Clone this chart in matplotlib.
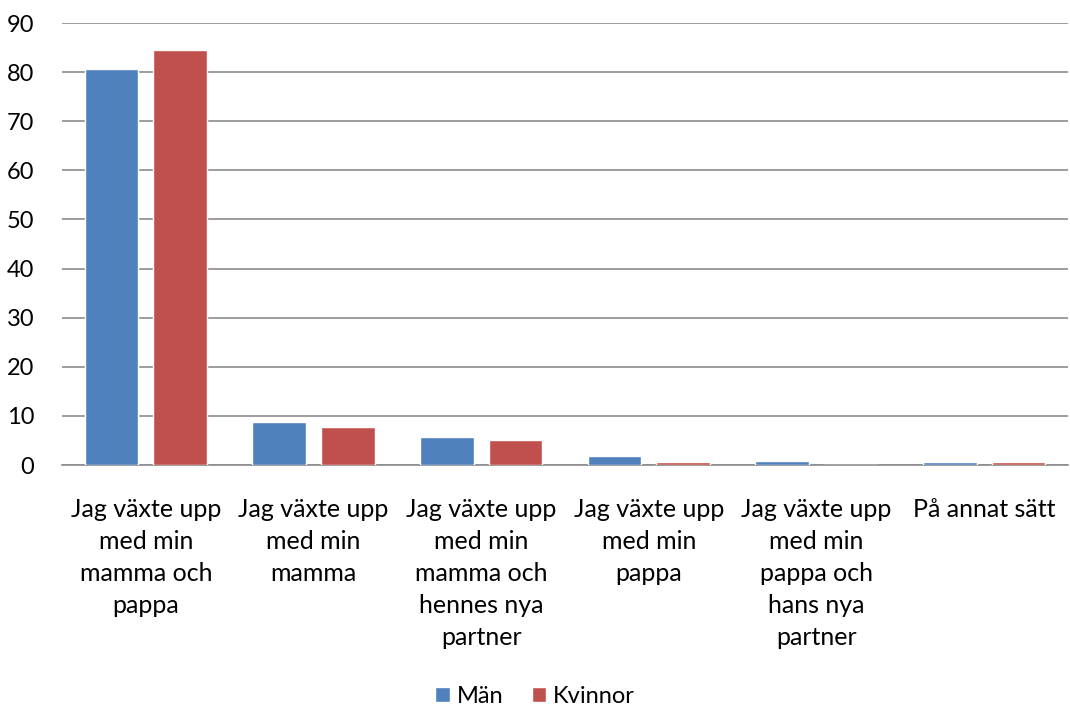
import numpy as np
import matplotlib.pyplot as plt

plt.rcParams['font.family'] = ['Lato', 'DejaVu Sans']

categories = ['Jag växte upp\nmed min\nmamma och\npappa',
              'Jag växte upp\nmed min\nmamma',
              'Jag växte upp\nmed min\nmamma och\nhennes nya\npartner',
              'Jag växte upp\nmed min\npappa',
              'Jag växte upp\nmed min\npappa och\nhans nya\npartner',
              'På annat sätt']
man = [80.6, 8.8, 5.7, 1.8, 0.8, 0.6]
kvinnor = [84.5, 7.7, 5.0, 0.55, 0.1, 0.6]

c_blue = '#4F81BD'
c_red = '#C0504D'

fig = plt.figure(figsize=(10.7, 7.15), dpi=100)
ax = fig.add_axes([62/1070, 1 - 465/715, 1 - 62/1070 - 2/1070, (465 - 23)/715])

x = np.arange(len(categories))
w = 0.32
gap = 0.09
ax.bar(x - (w + gap)/2, man, w, color=c_blue, edgecolor='white', linewidth=1, label='Män', zorder=3)
ax.bar(x + (w + gap)/2, kvinnor, w, color=c_red, edgecolor='white', linewidth=1, label='Kvinnor', zorder=3)

ax.set_xlim(-0.5, len(categories) - 0.5)
ax.set_ylim(0, 90)
ax.set_yticks(range(0, 91, 10))
ax.yaxis.grid(True, color='#8c8c8c', linewidth=1.2, zorder=0)
ax.set_axisbelow(True)
for s in ['top', 'right', 'left']:
    ax.spines[s].set_visible(False)
ax.spines['bottom'].set_color('#8c8c8c')
ax.spines['bottom'].set_linewidth(1.2)

ax.set_xticks(x)
ax.set_xticklabels(categories, fontsize=18, linespacing=1.47, va='top')
ax.tick_params(axis='x', length=0, pad=24)
ax.tick_params(axis='y', length=0, labelsize=17, pad=20)

fig.legend(loc='lower center', ncol=2, frameon=False, fontsize=17,
           bbox_to_anchor=(0.5, -0.018), handlelength=0.6, handleheight=0.6,
           handletextpad=0.3, columnspacing=1.2)

plt.savefig('out.png', dpi=100)
